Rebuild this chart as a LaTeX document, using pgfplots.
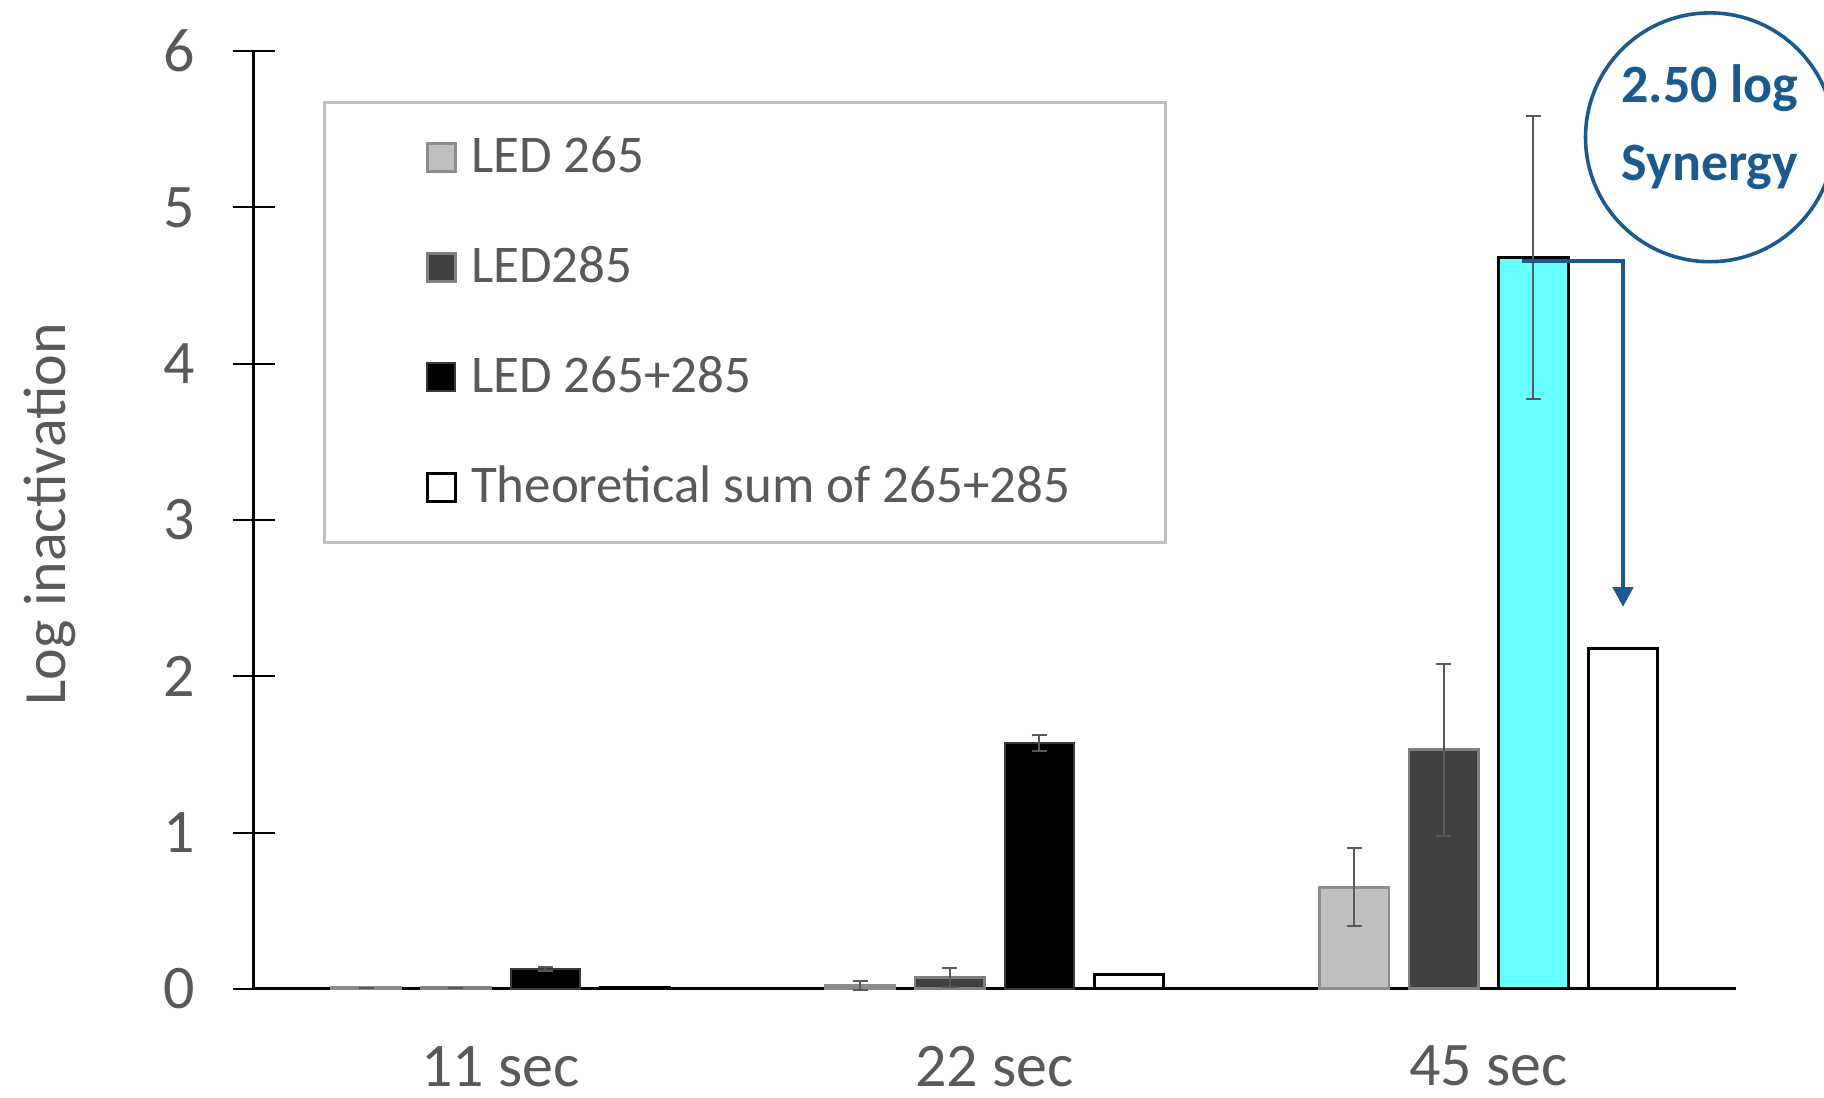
\documentclass[border=0pt]{standalone}
\usepackage{fontspec}
\setmainfont{Carlito}
\usepackage{pgfplots}
\pgfplotsset{compat=1.18}
\usetikzlibrary{arrows.meta}
\definecolor{txt}{HTML}{595959}
\definecolor{errc}{HTML}{595959}
\definecolor{cA}{HTML}{BFBFBF}
\definecolor{cAe}{HTML}{8C8C8C}
\definecolor{cB}{HTML}{404040}
\definecolor{cBe}{HTML}{7F7F7F}
\definecolor{cC}{HTML}{000000}
\definecolor{cCe}{HTML}{3A3A3A}
\definecolor{cyanf}{HTML}{66FFFF}
\definecolor{legbox}{HTML}{BFBFBF}
\definecolor{blu}{HTML}{1B5A8E}
\begin{document}
\begin{tikzpicture}
\begin{axis}[
  name=ax,
  scale only axis,
  width=370.5pt, height=234.4pt,
  xmin=-0.5, xmax=2.5, ymin=0, ymax=6,
  axis lines=left,
  axis line style={-, line width=0.7pt, black},
  xtick={0,1,2},
  xticklabels={11 sec,22 sec,45 sec},
  ytick={0,1,2,3,4,5,6},
  xtick style={draw=none},
  ytick style={black, line width=0.5pt},
  tick align=center,
  major tick length=10.5pt,
  tick label style={font=\fontsize{15.5}{18}\selectfont, text=txt},
  /pgf/number format/assume math mode=true,
  yticklabel style={xshift=-6pt},
  xticklabel style={yshift=-0.3pt},
  ylabel={Log inactivation},
  every axis y label/.style={at={(axis description cs:-0.1377,0.506)}, rotate=90, anchor=center, font=\fontsize{15}{18}\selectfont, text=txt},
  ybar,
  bar width=0.141,
  clip=false,
  legend cell align=left,
  legend image code/.code={\path (-3.5pt,0pt); \draw[#1] (0pt,-3.5pt) rectangle (7pt,3.5pt);},
  legend style={at={(axis description cs:0.0471,0.9467)}, anchor=north west, draw=legbox, line width=0.6pt, inner xsep=21.8pt, inner ysep=0pt, row sep=0pt, column sep=1.5pt, font=\fontsize{13.25}{16}\selectfont, text=txt, nodes={inner xsep=2pt, inner ysep=0pt, minimum height=27.5pt}},
]
\addplot[fill=cA, draw=cAe, line width=0.7pt, bar shift=-0.272,
  error bars/.cd, y dir=both, y explicit,
  error bar style={line width=0.5pt, draw=errc},
  error mark options={rotate=90, mark size=1.9pt, line width=0.5pt, draw=errc}]
  coordinates {(0,0.006) +- (0,0.0) (1,0.02) +- (0,0.03) (2,0.65) +- (0,0.25)};
\addplot[fill=cB, draw=cBe, line width=0.7pt, bar shift=-0.0907,
  error bars/.cd, y dir=both, y explicit,
  error bar style={line width=0.5pt, draw=errc},
  error mark options={rotate=90, mark size=1.9pt, line width=0.5pt, draw=errc}]
  coordinates {(0,0.006) +- (0,0.0) (1,0.074) +- (0,0.06) (2,1.53) +- (0,0.55)};
\addplot[fill=cC, draw=cCe, line width=0.5pt, bar shift=0.0907,
  error bars/.cd, y dir=both, y explicit,
  error bar style={line width=0.5pt, draw=errc},
  error mark options={rotate=90, mark size=1.9pt, line width=0.5pt, draw=errc}]
  coordinates {(0,0.127) +- (0,0.01) (1,1.571) +- (0,0.05)};
\addplot[fill=white, draw=black, line width=0.8pt, bar shift=0.272]
  coordinates {(0,0.006) (1,0.09) (2,2.18)};
\addplot[forget plot, fill=cyanf, draw=black, line width=0.8pt, bar shift=0.0907,
  error bars/.cd, y dir=both, y explicit,
  error bar style={line width=0.5pt, draw=errc},
  error mark options={rotate=90, mark size=1.9pt, line width=0.5pt, draw=errc}]
  coordinates {(2,4.68) +- (0,0.905)};
\legend{LED 265, LED285, LED 265+285, Theoretical sum of 265+285}
\draw[blu, line width=1.2pt, -{Triangle[width=5pt,length=5pt]}] (axis cs:2.068,4.657) -| (axis cs:2.272,2.443);
\draw[blu, line width=0.9pt] (axis cs:2.448,5.449) circle[radius=31.1pt];
\node[blu, font=\bfseries\fontsize{13.5}{16}\selectfont, anchor=base] at ([yshift=8.7pt]axis cs:2.448,5.449) {2.50 log};
\node[blu, font=\bfseries\fontsize{13.5}{16}\selectfont, anchor=base] at ([yshift=-10.8pt]axis cs:2.448,5.449) {Synergy};
\end{axis}
\pgfresetboundingbox
\path ([xshift=-63.4pt,yshift=-27.3pt]ax.south west) rectangle ([xshift=22.1pt,yshift=12.8pt]ax.north east);
\end{tikzpicture}
\end{document}
